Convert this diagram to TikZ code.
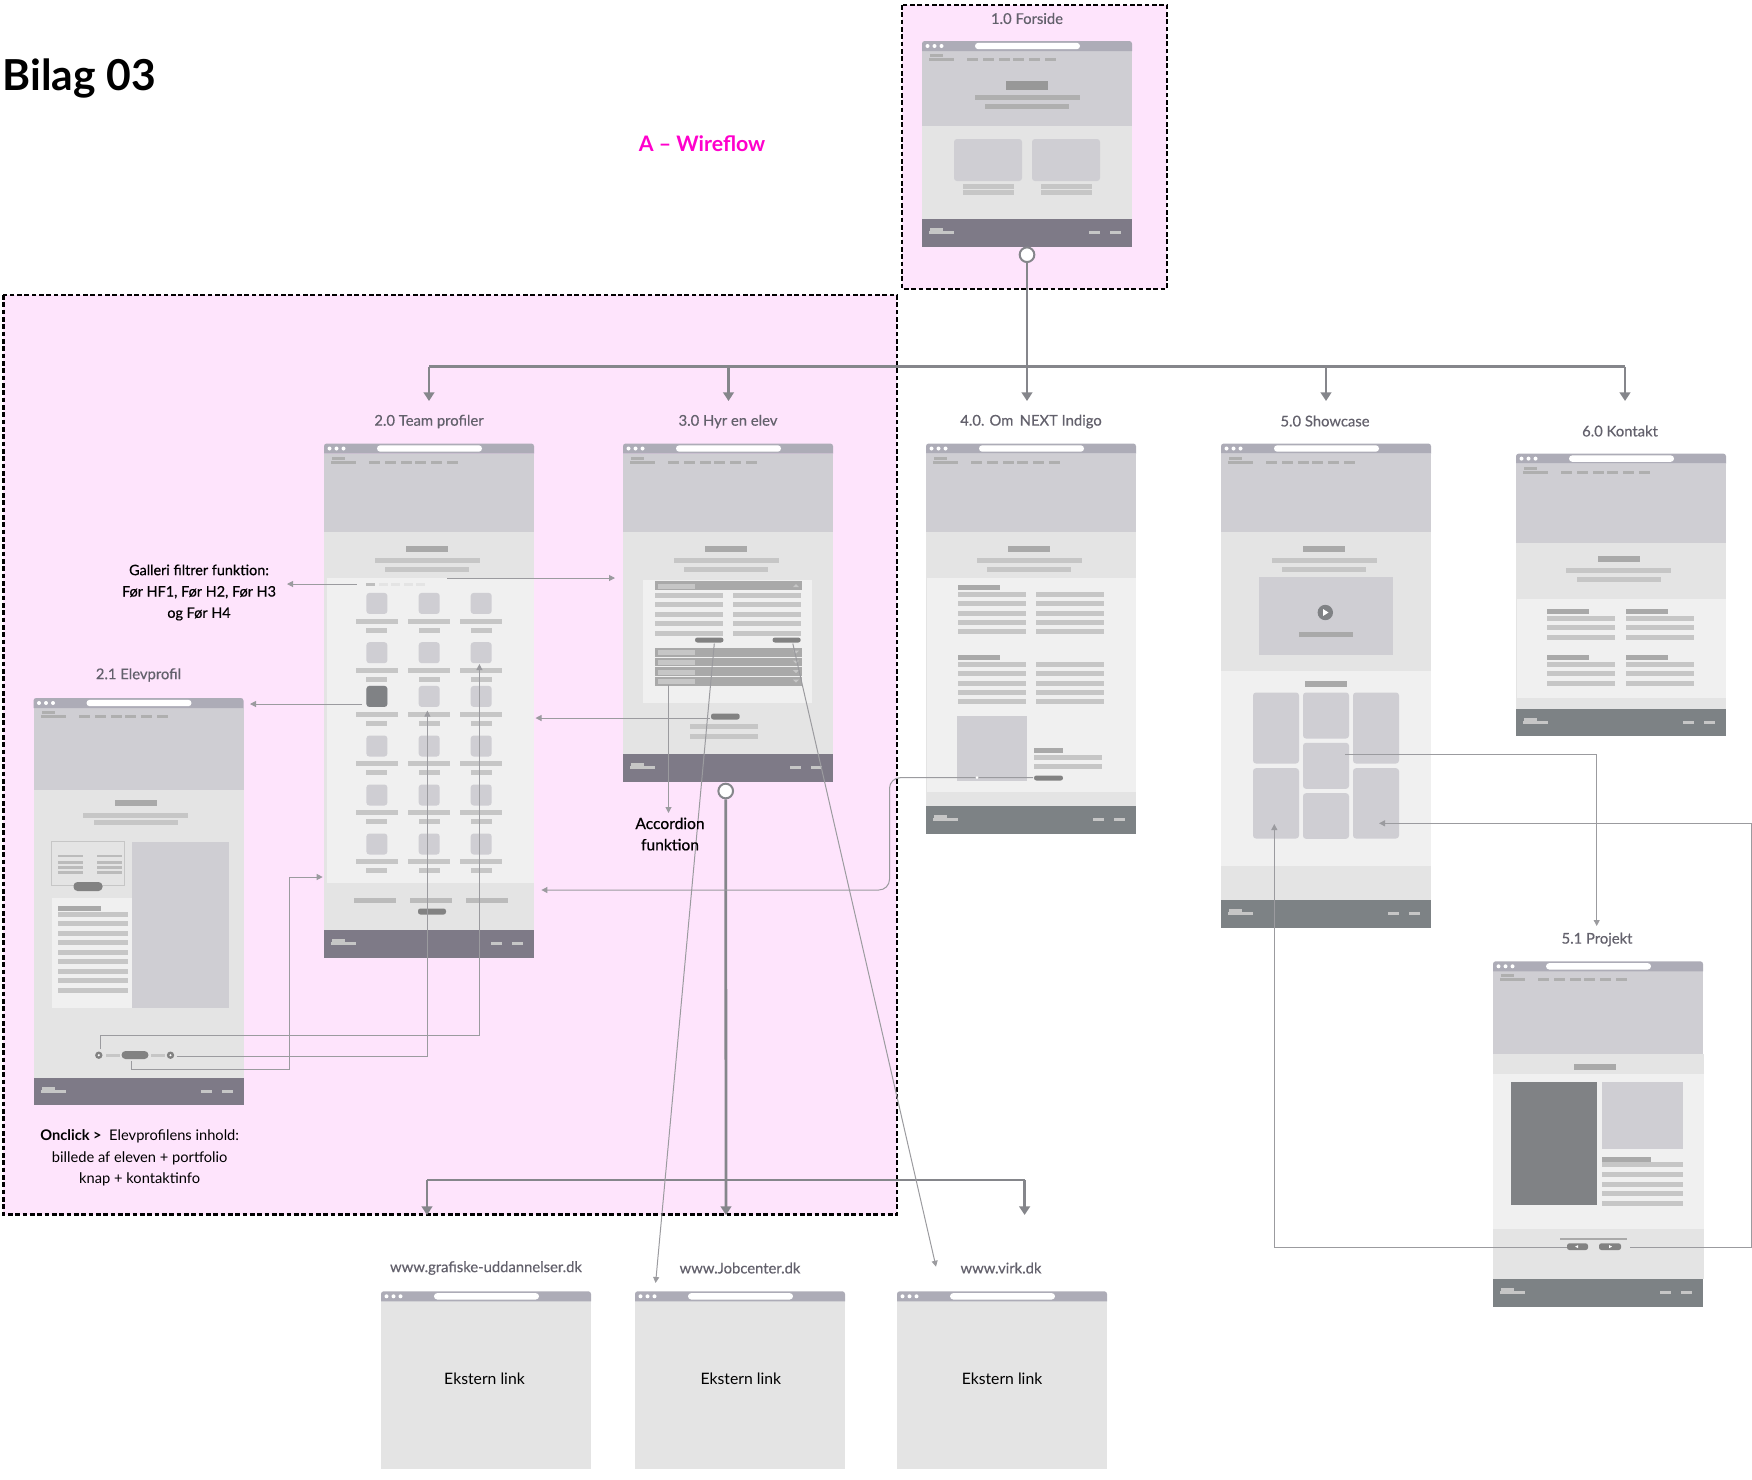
\documentclass[tikz,border=0pt]{standalone}
\usepackage{fontspec}
\setmainfont{Lato}
\newfontfamily\latomed[FakeBold=0.5]{Lato}
\usetikzlibrary{arrows.meta}

\definecolor{pinkbg}{HTML}{FEE4FC}
\definecolor{heroc}{HTML}{CFCED3}
\definecolor{lightc}{HTML}{E4E4E4}
\definecolor{panelc}{HTML}{F0F0F0}
\definecolor{barc}{HTML}{ADACB7}
\definecolor{linec}{HTML}{C6C6C6}
\definecolor{headc}{HTML}{A9A9A9}
\definecolor{btnc}{HTML}{828282}
\definecolor{footpurple}{HTML}{7E7A87}
\definecolor{footgrey}{HTML}{7D8285}
\definecolor{darkc}{HTML}{808285}
\definecolor{flowc}{HTML}{85868B}
\definecolor{thinc}{HTML}{9B9B9F}
\definecolor{labelc}{HTML}{63616C}
\definecolor{wiremagenta}{HTML}{FF00CC}

\tikzset{every picture/.style={line width=0.75pt}}
\tikzset{
  pinkbox/.style={fill=pinkbg,draw=black,line width=2pt,dash pattern=on 3.5pt off 2pt},
  busline/.style={draw=flowc,line width=2.1pt},
  busarrow/.style={busline,-{Triangle[length=6.5pt,width=8pt]}},
  hubcircle/.style={circle,draw=flowc,fill=white,line width=1.5pt,minimum size=11pt,inner sep=0pt},
  thinarrow/.style={draw=thinc,line width=0.75pt,-{Triangle[length=4.5pt,width=4.5pt]}},
  framelabel/.style={text=labelc,font=\latomed\fontsize{11.1}{14}\selectfont,inner sep=0.75pt},
  notelabel/.style={text=black,font=\latomed\fontsize{10.8}{16}\selectfont,align=center,inner sep=0.75pt},
  externlabel/.style={text=black,font=\fontsize{11.8}{14}\selectfont,inner sep=0.75pt},
  tile/.style={fill=heroc,rounded corners=2.2pt},
  pill/.style={fill=btnc,rounded corners=1.8pt}
}

% one grey text line of a wireframe: x from, x to, y top
\newcommand{\wfline}[3]{\fill[linec] (#1,#3) rectangle (#2,#3+5);}
\newcommand{\wfhead}[3]{\fill[headc] (#1,#3) rectangle (#2,#3+5);}
% browser bar, hero and nav: hero bottom
\newcommand{\wftop}[1]{
  \fill[heroc] (0,10) rectangle (210,#1);
  \fill[barc] (0,10) [rounded corners=2pt] -- (0,0) -- (210,0) [sharp corners] -- (210,10) -- cycle;
  \foreach \dx in {5.5,12.5,19.5} {\fill[white] (\dx,5) circle (2);}
  \fill[white,rounded corners=2.4pt] (53,1.8) rectangle (158,8.2);
  \fill[headc!85!heroc] (8,13) rectangle (21,16);
  \fill[headc!85!heroc] (7,17) rectangle (32,20);
  \foreach \nx in {45,61,77,91,107,123} {\fill[headc!85!heroc] (\nx,17) rectangle (\nx+11,20);}
}
% footer: top, bottom, colour
\newcommand{\wffoot}[3]{
  \fill[#3] (0,#1) rectangle (210,#2);
  \fill[linec] (8,#1+9) rectangle (21,#1+12);
  \fill[linec] (7,#1+12) rectangle (32,#1+15);
  \fill[linec] (167,#1+12) rectangle (178,#1+15);
  \fill[linec] (188,#1+12) rectangle (199,#1+15);
}
% section title and two lines below the hero
\newcommand{\wfintro}{
  \fill[headc] (82,102.5) rectangle (124,108.5);
  \wfline{51}{156}{114.5}
  \wfline{61}{145}{123.5}
}
% external page
\newcommand{\wfextern}{
  \fill[lightc] (0,10) rectangle (210,177.5);
  \fill[barc] (0,10) [rounded corners=2pt] -- (0,0) -- (210,0) [sharp corners] -- (210,10) -- cycle;
  \foreach \dx in {5.5,12.5,19.5} {\fill[white] (\dx,5) circle (2);}
  \fill[white,rounded corners=2.4pt] (53,1.8) rectangle (158,8.2);
}

\begin{document}
\begin{tikzpicture}[x=0.75pt,y=0.75pt,yscale=-1]
\useasboundingbox (0,0) rectangle (1752,1479);

%Pink areas
\draw[pinkbox] (902,5) rectangle (1167,289);
\draw[pinkbox] (3.4,295) rectangle (897,1214.5);

%Wireframe 1.0
\begin{scope}[shift={(922,41)}]
\fill[lightc] (0,85) rectangle (210,178);
\wftop{85}
\fill[headc!90!black] (84,40) rectangle (126,49);
\fill[headc!85!heroc] (53,54) rectangle (158,59);
\fill[headc!85!heroc] (63,63) rectangle (147,68);
\fill[tile] (32,98) rectangle (100,140);
\fill[tile] (110,98) rectangle (178,140);
\foreach \lx in {41,119} {
  \fill[linec] (\lx,143) rectangle (\lx+51,148);
  \fill[linec] (\lx,149) rectangle (\lx+51,154);
}
\wffoot{178}{206}{footpurple}
\end{scope}

%Wireframe 2.0
\begin{scope}[shift={(324,443.5)}]
\fill[lightc] (0,88) rectangle (210,486);
\wftop{88}
\wfintro
\fill[panelc] (2.8,134.5) rectangle (210,439);
\fill[headc!70!panelc] (42,139) rectangle (51,142);
\foreach \fx in {54.8,66.8,80,92} {\fill[lightc] (\fx,139) rectangle (\fx+9,142);}
\foreach \ry in {149.4,198.7,242.4,292,341,390} {
  \foreach \cx/\lx/\sx in {42.4/32/42,94.7/84/95,146.7/136/147} {
    \fill[tile] (\cx,\ry) rectangle (\cx+21,\ry+21);
    \wfline{\lx}{\lx+42}{\ry+25.8}
    \wfline{\sx}{\sx+21}{\ry+34.8}
  }
}
\fill[darkc,rounded corners=2.2pt] (42.4,242.4) rectangle (63.4,263.4);
\foreach \lx in {30,86,142} {\fill[headc!70!lightc] (\lx,454) rectangle (\lx+42,459);}
\fill[pill] (94,465) rectangle (122,471);
\wffoot{486}{514}{footpurple}
\end{scope}

%Wireframe 3.0
\begin{scope}[shift={(623,443.5)}]
\fill[lightc] (0,88) rectangle (210,310);
\wftop{88}
\wfintro
\fill[panelc] (20,136.4) rectangle (189,259.3);
\fill[headc] (32,137) rectangle (179,146.7);
\fill[linec] (34.8,140) rectangle (72,145.5);
\fill[linec] (170,143.5) -- (176,143.5) -- (173,140.5) -- cycle;
\foreach \ly in {149,158.5,168.5,177.5,187.3} {
  \wfline{32}{100}{\ly}
  \wfline{110}{178}{\ly}
}
\fill[pill] (72,194) rectangle (100.5,199);
\fill[pill] (149.5,194) rectangle (177.7,199);
\foreach \hy/\he in {204/213,214/222.5,223.7/232,233/242} {
  \fill[headc] (32,\hy) rectangle (179,\he);
  \fill[linec] (34.8,\hy+2.5) rectangle (72,\hy+7.5);
  \fill[linec] (170,\hy+3) -- (176,\hy+3) -- (173,\hy+6) -- cycle;
}
\fill[pill] (88,270) rectangle (116.7,276);
\wfline{67}{135}{280.3}
\wfline{67}{135}{290}
\wffoot{310}{338}{footpurple}
\end{scope}

%Wireframe 4.0
\begin{scope}[shift={(926,443.5)}]
\fill[lightc] (0,88) rectangle (210,362.7);
\wftop{88}
\wfintro
\fill[panelc] (1,134.7) rectangle (210,348.3);
\wfhead{32}{74}{141.7}
\wfhead{32}{74}{211.7}
\foreach \ly in {148.7,157.7,167.7,176.7,185.7,218.7,227.7,237.7,246.7,255.7} {
  \wfline{32}{100}{\ly}
  \wfline{110}{178}{\ly}
}
\fill[heroc] (31,272.7) rectangle (101,337.3);
\wfhead{108}{137}{304.7}
\wfline{108}{176}{311.7}
\wfline{108}{176}{320.7}
\fill[pill] (108,332) rectangle (137,337);
\wffoot{362.7}{390.7}{footgrey}
\end{scope}

%Wireframe 5.0
\begin{scope}[shift={(1221,443.5)}]
\fill[lightc] (0,88) rectangle (210,456.7);
\wftop{88}
\wfintro
\fill[heroc] (38,133.7) rectangle (172,211.7);
\fill[darkc] (104.3,169) circle (7.7);
\fill[white] (102,165.5) -- (102,172.5) -- (107.5,169) -- cycle;
\wfhead{78}{132}{188.7}
\fill[panelc] (0,227.7) rectangle (210,422.7);
\fill[headc] (84,237.7) rectangle (126,243.7);
\fill[tile] (32,249) rectangle (78,320);
\fill[tile] (32,324.7) rectangle (78,395);
\fill[tile] (82,249) rectangle (128,295);
\fill[tile] (82,299.3) rectangle (128,345.3);
\fill[tile] (82,349.7) rectangle (128,395.3);
\fill[tile] (132,249) rectangle (178,320);
\fill[tile] (132,324.7) rectangle (178,395);
\wffoot{456.7}{484.7}{footgrey}
\end{scope}

%Wireframe 6.0
\begin{scope}[shift={(1516,453.6)}]
\fill[lightc] (0,89) rectangle (210,255);
\wftop{89}
\fill[headc] (82,102) rectangle (124,108);
\wfline{50}{155}{114}
\wfline{61}{145}{123}
\fill[panelc] (1,145) rectangle (210,244);
\foreach \cx in {31,110} {
  \wfhead{\cx}{\cx+42}{155}
  \wfhead{\cx}{\cx+42}{201}
  \foreach \ly in {162,171,181,208,217,227} {\wfline{\cx}{\cx+68}{\ly}}
}
\wffoot{255}{282.7}{footgrey}
\end{scope}

%Wireframe 2.1
\begin{scope}[shift={(33.5,698)}]
\fill[lightc] (0,92) rectangle (210,380);
\wftop{92}
\fill[headc] (81,102) rectangle (123,108);
\wfline{49}{154}{114.5}
\wfline{60}{144}{122.4}
\draw[linec,fill=lightc] (18,143) rectangle (91,187);
\foreach \ly in {156.6,163,168,173} {
  \fill[headc!70!lightc] (24,\ly) rectangle (49,\ly+2.6);
  \fill[headc!70!lightc] (63,\ly) rectangle (88,\ly+2.6);
}
\fill[btnc,rounded corners=3pt] (40,184) rectangle (69,193);
\fill[panelc] (18,200) rectangle (98,310);
\wfhead{24}{67}{208}
\foreach \ly in {214,223,233,242,252,261,271,280,290} {\wfline{24}{94}{\ly}}
\fill[heroc] (98,143.7) rectangle (195,310);
\fill[linec] (72,355.7) rectangle (86,358.7);
\fill[linec] (117,355.7) rectangle (131,358.7);
\fill[btnc,rounded corners=3pt] (88,353) rectangle (115,361);
\foreach \sx in {65.3,137} {
  \fill[btnc] (\sx,357.2) circle (3.7);
  \fill[white] (\sx,357.2) circle (1.2);
}
\wffoot{380}{407}{footpurple}
\end{scope}

%Wireframe 5.1
\begin{scope}[shift={(1493,961.3)}]
\fill[lightc] (0,92.7) rectangle (211,317.7);
\wftop{92.7}
\fill[headc] (81,102.7) rectangle (123,108.7);
\fill[panelc] (0,112.7) rectangle (211,267.7);
\fill[darkc] (18,120.7) rectangle (104,243.7);
\fill[heroc] (109,120.7) rectangle (190,187.7);
\wfhead{109}{158}{195.7}
\foreach \ly in {200.7,210.7,220.7,229.7,239.7} {\wfline{109}{190}{\ly}}
\fill[headc] (67,276.7) rectangle (134,278.7);
\fill[pill] (74,282) rectangle (95,288.7);
\fill[pill] (106,282) rectangle (128,288.7);
\fill[white] (82,285.3) -- (85,283.8) -- (85,286.8) -- cycle;
\fill[white] (119,285.3) -- (116,283.8) -- (116,286.8) -- cycle;
\wffoot{317.7}{345.7}{footgrey}
\end{scope}

%External pages
\begin{scope}[shift={(381,1291.3)}] \wfextern \end{scope}
\begin{scope}[shift={(635,1291.3)}] \wfextern \end{scope}
\begin{scope}[shift={(897,1291.3)}] \wfextern \end{scope}

%Named ends of the connectors
\coordinate (busteam) at (429,366.5);
\coordinate (bushyr) at (728.5,366.5);
\coordinate (busnext) at (1027,366.5);
\coordinate (busshow) at (1326,366.5);
\coordinate (buskontakt) at (1625,366.5);
\coordinate (tipteam) at (429,401);
\coordinate (tiphyr) at (728.5,401);
\coordinate (tipnext) at (1027,401);
\coordinate (tipshow) at (1326,401);
\coordinate (tipkontakt) at (1625,401);
\coordinate (busgraf) at (427,1180);
\coordinate (busjob) at (726,1180);
\coordinate (busvirk) at (1024.6,1180);
\coordinate (tipgraf) at (427,1215);
\coordinate (tipjob) at (726,1215);
\coordinate (tipvirk) at (1024.6,1215);

\coordinate (filterleft) at (356.5,584);
\coordinate (galleritip) at (287,584);
\coordinate (filterright) at (447.4,578);
\coordinate (filtertip) at (615,578);
\coordinate (squareout) at (362,704);
\coordinate (elevtip) at (250,704);
\coordinate (hyrbtn) at (709.5,718);
\coordinate (teamtipa) at (535.5,718);
\coordinate (nextbtn) at (1033,777.7);
\coordinate (teamtipb) at (541.4,890);
\coordinate (accstart) at (668.5,684.8);
\coordinate (acctip) at (668.5,813);
\coordinate (jobbtn) at (714.3,643.5);
\coordinate (jobtip) at (655.6,1283);
\coordinate (virkbtn) at (792.8,643.5);
\coordinate (virktip) at (936,1266.7);
\coordinate (prevdot) at (100.3,1049);
\coordinate (prevtip) at (479.4,664);
\coordinate (nextdot) at (176.7,1056);
\coordinate (nexttip) at (427.4,710.6);
\coordinate (elevbtn) at (131,1061.4);
\coordinate (teamtipc) at (322.7,877);
\coordinate (tilemid) at (1345,754);
\coordinate (projtip) at (1596.7,926);
\coordinate (projnext) at (1630.3,1247.7);
\coordinate (tileright) at (1379,823.3);
\coordinate (projprev) at (1566.7,1247.7);
\coordinate (tileleft) at (1274.3,824);

%Thick flow from 1.0
\node[hubcircle] (hubforside) at (1027,254.7) {};
\draw[busline] (hubforside) -- (busnext);
\draw[busline] (busteam) -- (buskontakt);
\foreach \dropa/\dropb in {busteam/tipteam,bushyr/tiphyr,busnext/tipnext,busshow/tipshow,buskontakt/tipkontakt} {
  \draw[busarrow] (\dropa) -- (\dropb);
}

%Thick flow from 3.0
\node[hubcircle] (hubhyr) at (725.7,791) {};
\draw[busline] (busgraf) -- (busvirk);
\draw[busarrow] (hubhyr) -- (tipjob);
\draw[busarrow] (busgraf) -- (tipgraf);
\draw[busarrow] (busvirk) -- (tipvirk);

%Straight Lines
\draw[thinarrow] (filterleft) -- (galleritip);
\draw[thinarrow] (filterright) -- (filtertip);
\draw[thinarrow] (squareout) -- (elevtip);
\draw[thinarrow] (hyrbtn) -- (teamtipa);
\draw[thinarrow] (accstart) -- (acctip);
\draw[thinarrow] (jobbtn) -- (jobtip);
\draw[thinarrow] (virkbtn) -- (virktip);
\draw[thinarrow,rounded corners=8pt] (nextbtn) -| (889.5,890) -- (teamtipb);
\fill[white] (977,777.7) circle (1.5);
\draw[thinarrow] (prevdot) |- (479.4,1035) -- (prevtip);
\draw[thinarrow] (nextdot) -| (nexttip);
\draw[thinarrow] (elevbtn) |- (289.7,1069.7) |- (teamtipc);
\draw[thinarrow] (tilemid) -| (projtip);
\draw[thinarrow] (projnext) -| (1751.7,823.3) -- (tileright);
\draw[thinarrow] (projprev) -| (tileleft);

% Text Node
\node[anchor=base west,inner sep=0pt,font=\fontsize{32}{40}\selectfont\bfseries] (lbltitle) at (2,90) {Bilag 03};
% Text Node
\node[anchor=base,inner sep=0pt,text=wiremagenta,font=\fontsize{16}{20}\selectfont\bfseries] (lblwire) at (702,151.7) {A -- Wireflow};
% Text Node
\node[framelabel] (lblforside) at (1027,18.5) {1.0 Forside};
\node[framelabel] (lblteam) at (429,421.5) {2.0 Team profiler};
\node[framelabel] (lblhyr) at (728,421.5) {3.0 Hyr en elev};
\node[framelabel] (lblnext) at (1031,421.5) {4.0. Om\,\ NEXT Indigo};
\node[framelabel] (lblshow) at (1325,421) {5.0 Showcase};
\node[framelabel] (lblkontakt) at (1620,431) {6.0 Kontakt};
\node[framelabel] (lblprojekt) at (1597,939.5) {5.1 Projekt};
\node[framelabel] (lblelev) at (138.5,675) {2.1 Elevprofil};
\node[framelabel] (lblgraf) at (486,1268) {www.grafiske-uddannelser.dk};
\node[framelabel] (lbljob) at (740,1268) {www.Jobcenter.dk};
\node[framelabel] (lblvirk) at (1001,1268) {www.virk.dk};
% Text Node
\node[notelabel] (lblgalleri) at (199,592.5) {Galleri filtrer funktion:\\Før HF1, Før H2, Før H3\\og Før H4};
\node[notelabel,font=\latomed\fontsize{11.7}{16}\selectfont] (lblaccordion) at (670,834) {Accordion\\funktion};
\node[notelabel,font=\fontsize{11}{16}\selectfont] (lblonclick) at (139.7,1158) {\textbf{Onclick >}\ \ Elevprofilens inhold:\\billede af eleven + portfolio\\knap + kontaktinfo};
% Text Node
\node[externlabel] (lblexta) at (484.5,1378.5) {Ekstern link};
\node[externlabel] (lblextb) at (740.8,1378.5) {Ekstern link};
\node[externlabel] (lblextc) at (1002,1378.5) {Ekstern link};

\end{tikzpicture}
\end{document}
